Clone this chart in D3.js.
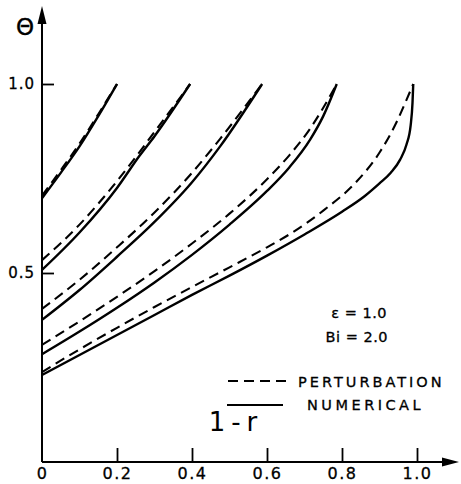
<!DOCTYPE html>
<html>
<head>
<meta charset="utf-8">
<script src="https://cdn.jsdelivr.net/npm/d3@7"></script>
<style>
  html, body { margin: 0; padding: 0; background: #fff; }
  svg { display: block; }
  text { font-family: "DejaVu Sans", sans-serif; fill: #000; }
</style>
</head>
<body>
<svg id="chart" width="461" height="484"></svg>
<script>
// ---- data (1 - r, Theta) ----
const xTicks = [0, 0.2, 0.4, 0.6, 0.8, 1.0];
const xTickLabels = ["0", "0.2", "0.4", "0.6", "0.8", "1.0"];
const yTicks = [0.5, 1.0];
const yTickLabels = ["0.5", "1.0"];

const numerical1 = [[0,0.698],[0.05,0.765],[0.1,0.835],[0.15,0.915],[0.2,1.0]];
const perturbation1 = [[0,0.705],[0.05,0.772],[0.1,0.842],[0.15,0.92],[0.2,1.0]];

const numerical2 = [[0,0.508],[0.1,0.607],[0.2,0.725],[0.26,0.81],[0.3,0.862],[0.395,1.0]];
const perturbation2 = [[0,0.534],[0.1,0.628],[0.2,0.743],[0.3,0.873],[0.395,1.0]];

const numerical3 = [[0,0.376],[0.1,0.455],[0.2,0.543],[0.3,0.635],[0.4,0.74],[0.475,0.835],[0.587,1.0]];
const perturbation3 = [[0,0.405],[0.1,0.482],[0.2,0.568],[0.3,0.66],[0.4,0.765],[0.475,0.855],[0.587,1.0]];

const numerical4 = [[0,0.285],[0.1,0.345],[0.2,0.408],[0.3,0.475],[0.4,0.548],[0.5,0.628],[0.6,0.717],[0.66,0.78],[0.715,0.853],[0.75,0.915],[0.786,1.0]];
const perturbation4 = [[0,0.31],[0.1,0.372],[0.2,0.437],[0.3,0.505],[0.4,0.578],[0.5,0.657],[0.6,0.748],[0.66,0.812],[0.715,0.882],[0.75,0.937],[0.786,1.0]];

const numerical5 = [[0,0.23],[0.1,0.283],[0.2,0.336],[0.3,0.389],[0.4,0.442],[0.5,0.493],[0.6,0.546],[0.7,0.602],[0.8,0.662],[0.86,0.703],[0.9,0.737],[0.93,0.765],[0.955,0.8],[0.972,0.84],[0.983,0.89],[0.988,0.95],[0.99,1.0]];
const perturbation5 = [[0,0.238],[0.1,0.298],[0.2,0.355],[0.3,0.41],[0.4,0.463],[0.5,0.515],[0.6,0.568],[0.661,0.603],[0.75,0.665],[0.839,0.742],[0.901,0.82],[0.946,0.9],[0.972,0.958],[0.99,1.0]];

const numericalSeries = [numerical1, numerical2, numerical3, numerical4, numerical5];
const perturbationSeries = [perturbation1, perturbation2, perturbation3, perturbation4, perturbation5];

const legendLabels = ["PERTURBATION", "NUMERICAL"];
const paramLabels = ["\u03B5 = 1.0", "Bi = 2.0"];
const xAxisTitle = "1-r";
const yAxisTitle = "\u0398";

// ---- drawing ----
const svg = d3.select("#chart");
const x = d3.scaleLinear().domain([0, 1]).range([42, 417]);
const y = d3.scaleLinear().domain([0, 1]).range([462, 84]);

const line = d3.line().x(d => x(d[0])).y(d => y(d[1])).curve(d3.curveMonotoneX);

// axes lines with arrows
svg.append("line").attr("x1", x(0)).attr("y1", y(0)).attr("x2", x(0)).attr("y2", 18)
  .attr("stroke", "#000").attr("stroke-width", 2);
svg.append("path").attr("d", `M${x(0)-4.5},24 L${x(0)},6 L${x(0)+4.5},24 Z`).attr("fill", "#000");
svg.append("line").attr("x1", x(0)).attr("y1", y(0)).attr("x2", 448).attr("y2", y(0))
  .attr("stroke", "#000").attr("stroke-width", 2);
svg.append("path").attr("d", `M442,${y(0)-4.5} L459,${y(0)} L442,${y(0)+4.5} Z`).attr("fill", "#000");

const xAxis = d3.axisBottom(x).tickValues(xTicks)
  .tickFormat((d, i) => xTickLabels[i]).tickSizeInner(-14).tickSizeOuter(0).tickPadding(6);
const gx = svg.append("g").attr("transform", `translate(0,${y(0)})`).call(xAxis);
gx.select(".domain").remove();
gx.selectAll(".tick line").attr("stroke", "#000").attr("stroke-width", 1.8)
  .attr("opacity", d => d === 0 ? 0 : 1);
gx.selectAll(".tick text").attr("font-size", 16).attr("letter-spacing", 1.5)
  .attr("font-family", "DejaVu Sans, sans-serif").attr("fill", "#000")
  .attr("stroke", "#000").attr("stroke-width", 0.3);

const yAxis = d3.axisLeft(y).tickValues(yTicks)
  .tickFormat((d, i) => yTickLabels[i]).tickSizeInner(-12).tickSizeOuter(0).tickPadding(7);
const gy = svg.append("g").attr("transform", `translate(${x(0)},0)`).call(yAxis);
gy.select(".domain").remove();
gy.selectAll(".tick line").attr("stroke", "#000").attr("stroke-width", 1.8);
gy.selectAll(".tick text").attr("font-size", 15).attr("letter-spacing", 1)
  .attr("font-family", "DejaVu Sans, sans-serif").attr("fill", "#000")
  .attr("stroke", "#000").attr("stroke-width", 0.3);

// curves
svg.append("g").selectAll("path.pert").data(perturbationSeries).join("path")
  .attr("class", "pert").attr("d", line).attr("fill", "none")
  .attr("stroke", "#000").attr("stroke-width", 2.1).attr("stroke-dasharray", "10,6");
svg.append("g").selectAll("path.num").data(numericalSeries).join("path")
  .attr("class", "num").attr("d", line).attr("fill", "none")
  .attr("stroke", "#000").attr("stroke-width", 2.4);

// axis titles
svg.append("text").attr("x", 25).attr("y", 35).attr("text-anchor", "middle")
  .attr("font-size", 23).attr("stroke", "#000").attr("stroke-width", 0.4).text(yAxisTitle);
svg.append("text").attr("x", 236).attr("y", 431).attr("text-anchor", "middle")
  .attr("font-size", 26).attr("letter-spacing", 6)
  .attr("font-family", "DejaVu Serif, serif").text(xAxisTitle);

// parameters
svg.append("text").attr("x", 387).attr("y", 318).attr("text-anchor", "end")
  .attr("font-size", 14.5).attr("letter-spacing", 0.5)
  .attr("stroke", "#000").attr("stroke-width", 0.3).text(paramLabels[0]);
svg.append("text").attr("x", 388).attr("y", 342).attr("text-anchor", "end")
  .attr("font-size", 14.5).attr("letter-spacing", 0.5)
  .attr("stroke", "#000").attr("stroke-width", 0.3).text(paramLabels[1]);

// legend
svg.append("line").attr("x1", 228).attr("y1", 381).attr("x2", 290).attr("y2", 381)
  .attr("stroke", "#000").attr("stroke-width", 1.8).attr("stroke-dasharray", "10,6");
svg.append("text").attr("x", 298).attr("y", 387).attr("font-size", 14.5)
  .attr("letter-spacing", 3).attr("stroke", "#000").attr("stroke-width", 0.3).text(legendLabels[0]);
svg.append("line").attr("x1", 227).attr("y1", 405).attr("x2", 283).attr("y2", 405)
  .attr("stroke", "#000").attr("stroke-width", 1.8);
svg.append("text").attr("x", 307).attr("y", 410).attr("font-size", 14.5)
  .attr("letter-spacing", 3.5).attr("stroke", "#000").attr("stroke-width", 0.3).text(legendLabels[1]);
</script>
</body>
</html>
